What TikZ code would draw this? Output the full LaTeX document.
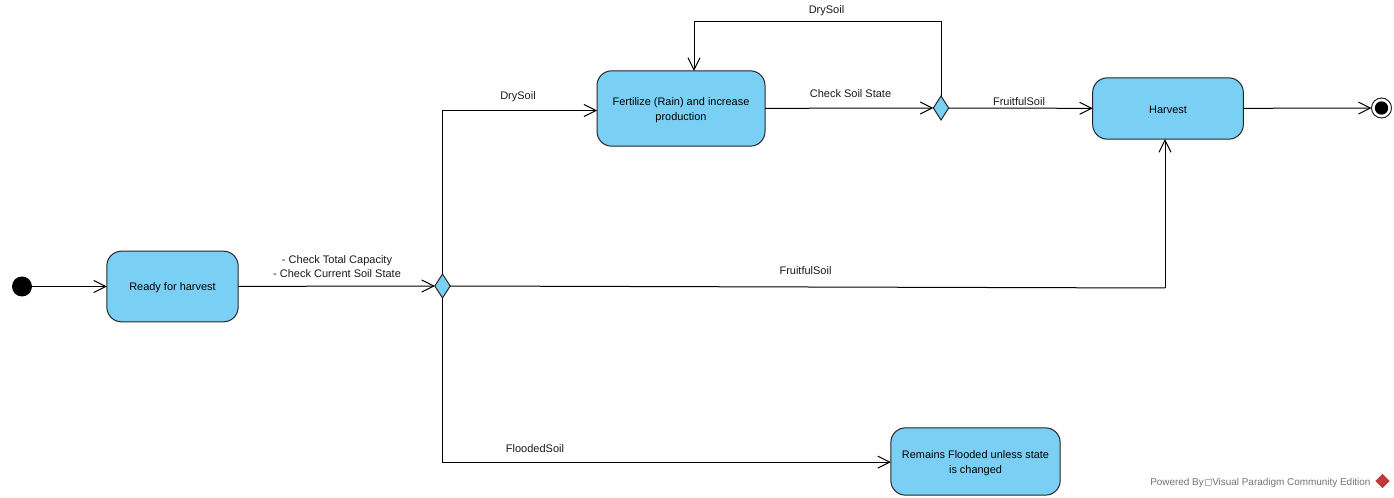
\documentclass[tikz,border=0pt]{standalone}
\usepackage{fontspec}
\setmainfont{Liberation Sans}
\usetikzlibrary{arrows.meta,shapes.geometric}

\tikzset{
    statebox/.style={draw=black!85, fill=stateblue, rounded corners=11pt, line width=0.75pt, align=center, inner sep=0pt, outer sep=0pt},
    decision/.style={diamond, draw=black!85, fill=stateblue, line width=0.75pt, minimum width=11.5pt, minimum height=18pt, inner sep=0pt, outer sep=0pt, aspect=0.6},
    flowlabel/.style={text=black!90, font=\fontsize{8.25}{10.5}\selectfont, align=center, inner sep=0pt}
}
\definecolor{stateblue}{HTML}{7ACFF5}
\definecolor{logored}{HTML}{C0393B}

\begin{document}
\begin{tikzpicture}
            [
                x=0.75pt, y=-0.75pt,
                ->, >={Straight Barb[length=9pt,width=9pt]},
                line width=0.75pt,
                every node/.append style={font=\fontsize{8.2}{11.2}\selectfont}
            ]
            \useasboundingbox (0,0) rectangle (1394,498);

            % states
            \node [circle, fill=black, minimum size=15pt, inner sep=0pt, outer sep=0pt] (start) at (22,286.5) {};
            \node [statebox, text height=8.1pt, minimum width=98.5pt, minimum height=53pt] (ready) at (172.5,286.5) {Ready for harvest};
            \node [decision] (checkfirst) at (442.5,286) {};
            \node [statebox, text height=19pt, minimum width=126pt, minimum height=56.5pt] (fertilize) at (681,108.5) {Fertilize (Rain) and increase\\production};
            \node [decision] (checksoil) at (941,108) {};
            \node [statebox, text height=7.6pt, minimum width=113pt, minimum height=46pt] (harvest) at (1168,108.5) {Harvest};
            \node [statebox, text height=19pt, minimum width=127pt, minimum height=50.5pt] (flooded) at (975.5,461.5) {Remains Flooded unless state\\is changed};
            \node [circle, draw=black!85, fill=white, minimum size=15pt, inner sep=0pt, outer sep=0pt, line width=0.75pt] (finish) at (1381.5,108) {};
            \node [circle, fill=black, minimum size=10pt, inner sep=0pt] (finishdot) at (finish) {};

            % free corner of the long transition
            \coordinate (fruitfulbend) at (1165,288);

            % transitions
            \draw (start) -- (ready);
            \draw (ready) -- (checkfirst);
            \draw (checkfirst.north) |- ([yshift=-1.5pt]fertilize.west);
            \draw (checkfirst.south) |- ([yshift=-0.5pt]flooded.west);
            \draw [-] (checkfirst.east) -- (fruitfulbend);
            \draw (fruitfulbend) -- (fruitfulbend |- harvest.south);
            \draw (fertilize) -- (checksoil);
            \draw (checksoil) -- (harvest);
            \draw (harvest) -- (finish);
            \draw (checksoil.north) -- (941,22) -| ([xshift=9.75pt]fertilize.north);

            % labels
            \node [flowlabel] (checklabel) at (337,267) {- Check Total Capacity\\- Check Current Soil State};
            \node [flowlabel] (drylabel) at (518,97) {DrySoil};
            \node [flowlabel] (soillabel) at (850.5,94) {Check Soil State};
            \node [flowlabel] (looplabel) at (826.5,11) {DrySoil};
            \node [flowlabel] (fruitfullabel) at (1019,102) {FruitfulSoil};
            \node [flowlabel] (fruitfullong) at (805.5,271) {FruitfulSoil};
            \node [flowlabel] (floodedlabel) at (535,449) {FloodedSoil};

            % watermark
            \node [text=black!55, anchor=east, inner sep=0pt, font=\fontsize{7.45}{9}\selectfont] (powered) at (1371,482.5) {Powered By\hspace{1pt}{\color{black!30}\rule{4.5pt}{0.3pt}\llap{\rule[4.5pt]{4.5pt}{0.3pt}}\llap{\rule{0.3pt}{4.8pt}\hspace{4.2pt}}\rule{0.3pt}{4.8pt}}\hspace{0.5pt}Visual Paradigm Community Edition};
            \node [diamond, fill=logored, minimum size=11pt, inner sep=0pt] (logo) at (1382.5,481) {};
        \end{tikzpicture}
\end{document}
